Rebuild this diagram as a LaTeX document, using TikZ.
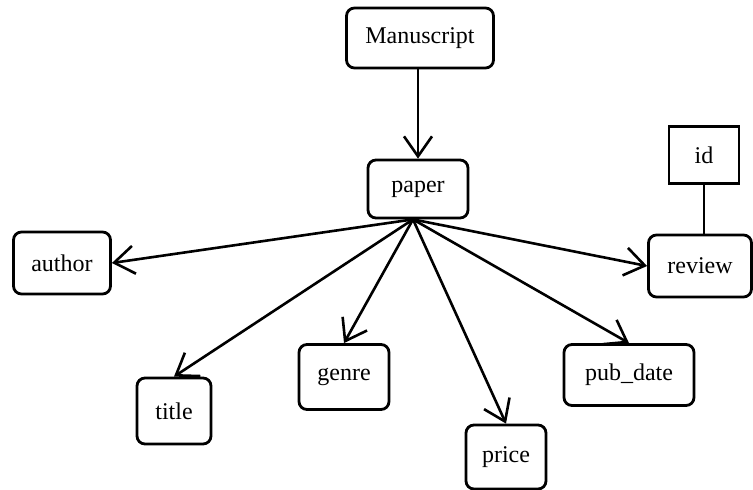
\documentclass[tikz,border=0pt]{standalone}
\usepackage{fontspec}
\setmainfont{Liberation Serif}
\usetikzlibrary{arrows.meta}
\tikzset{
	box/.style={draw, line width=2.8pt, rounded corners=8pt, inner sep=0pt, font=\fontsize{24}{28}\selectfont},
	plainbox/.style={box, rounded corners=0pt},
	arr/.style={line width=2.6pt, -{Straight Barb[length=20pt, width=28pt, line width=2.6pt]}}
}
\begin{document}
		\begin{tikzpicture}[x=1pt, y=-1pt]
			\useasboundingbox (0,0) rectangle (753,490);
			\node[box, minimum width=147pt, minimum height=60pt] (manuscript) at (420,38) {Manuscript};
			\node[box, minimum width=100pt, minimum height=58pt] (paper) at (418,189) {paper};
			\node[box, minimum width=97pt, minimum height=62pt] (author) at (62,263) {author};
			\node[box, minimum width=74pt, minimum height=66pt] (title) at (174,411) {title};
			\node[box, minimum width=90pt, minimum height=65pt] (genre) at (344,377) {genre};
			\node[box, minimum width=80pt, minimum height=64pt] (price) at (506,457) {price};
			\node[box, minimum width=130pt, minimum height=61pt] (pubdate) at (629,375) {pub\_date};
			\node[box, minimum width=103pt, minimum height=62pt] (review) at (700,266) {review};
			\node[plainbox, minimum width=70pt, minimum height=57pt] (id) at (704,155) {id};
			\draw[arr] (manuscript.south -| paper.north) -- (paper.north);
			\draw[line width=2.6pt] (id.south) -- (id.south |- review.north);
			\coordinate (hub) at ([xshift=-5pt]paper.south);
			\foreach \t/\a in {author/east, title/north, genre/north, price/north, pubdate/north, review/west}{
				\draw[arr] (hub) -- (\t.\a);
			}
		\end{tikzpicture}
\end{document}
